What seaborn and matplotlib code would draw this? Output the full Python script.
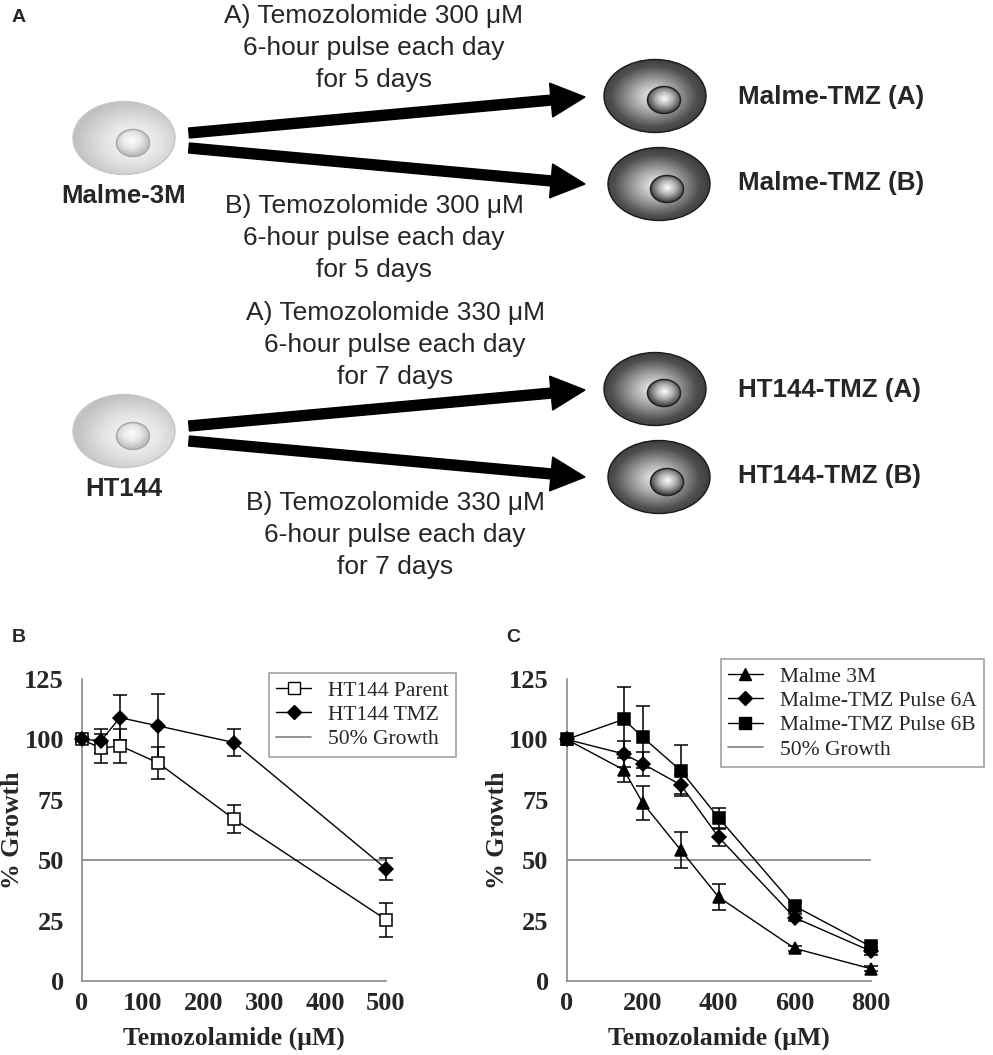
import numpy as np
import matplotlib
matplotlib.use("Agg")
import matplotlib.pyplot as plt
import seaborn as sns
from matplotlib.patches import Ellipse, FancyArrow
from matplotlib.colors import LinearSegmentedColormap
from matplotlib.lines import Line2D

# Panel B: HT144 parent vs TMZ-resistant line
b_dose = [0, 31.25, 62.5, 125, 250, 500]
b_parent = [100, 96.3, 97.4, 90.3, 67.0, 25.4]
b_parent_err = [1.0, 6.0, 7.0, 6.5, 5.7, 7.0]
b_tmz = [100, 99.5, 109.0, 105.6, 98.7, 46.5]
b_tmz_err = [1.0, 5.0, 9.4, 13.2, 5.5, 4.5]
b_labels = ["HT144 Parent", "HT144 TMZ", "50% Growth"]

# Panel C: Malme 3M and the two pulsed lines
c_dose = [0, 150, 200, 300, 400, 600, 800]
c_malme = [100, 87.4, 73.7, 54.2, 34.7, 13.5, 5.1]
c_malme_err = [0.5, 5.0, 7.0, 7.5, 5.3, 1.0, 1.0]
c_6a = [100, 94.0, 89.9, 81.2, 59.5, 26.2, 12.4]
c_6a_err = [0.5, 5.5, 5.0, 4.0, 3.5, 1.5, 1.5]
c_6b = [100, 108.3, 100.9, 87.1, 67.5, 31.0, 14.3]
c_6b_err = [0.5, 13.5, 12.8, 10.5, 4.0, 1.5, 1.5]
c_labels = ["Malme 3M", "Malme-TMZ Pulse 6A", "Malme-TMZ Pulse 6B", "50% Growth"]

growth_line = 50
y_ticks = [0, 25, 50, 75, 100, 125]
b_xticks = [0, 100, 200, 300, 400, 500]
c_xticks = [0, 200, 400, 600, 800]

# Panel A text
malme_a = ["A) Temozolomide 300 \u03bcM", "6-hour pulse each day", "for 5 days"]
malme_b = ["B) Temozolomide 300 \u03bcM", "6-hour pulse each day", "for 5 days"]
ht_a = ["A) Temozolomide 330 \u03bcM", "6-hour pulse each day", "for 7 days"]
ht_b = ["B) Temozolomide 330 \u03bcM", "6-hour pulse each day", "for 7 days"]

sns.set_theme(style="white")
plt.rcParams["font.family"] = ["Liberation Serif", "DejaVu Serif"]

fig = plt.figure(figsize=(9.93, 10.55), dpi=100)

# ---------- Panel A: schematic ----------
axA = fig.add_axes([0, 0, 1, 1])
axA.set_xlim(0, 993)
axA.set_ylim(1055, 0)
axA.axis("off")

SANS = ["Liberation Sans", "DejaVu Sans"]


def gradient_fill(ax, cx, cy, w, h, fx, fy, cmap, edge, lw, scale=1.12):
    xs = np.linspace(cx - w / 2, cx + w / 2, 220)
    ys = np.linspace(cy - h / 2, cy + h / 2, 220)
    X, Y = np.meshgrid(xs, ys)
    r = np.hypot((X - fx) / (w / 2), (Y - fy) / (h / 2))
    t = np.clip(r / scale, 0, 1)
    im = ax.imshow(t, cmap=cmap, vmin=0, vmax=1, extent=(cx - w / 2, cx + w / 2, cy + h / 2, cy - h / 2),
                   origin="upper", interpolation="bilinear", aspect="auto", zorder=1)
    e = Ellipse((cx, cy), w, h, facecolor="none", edgecolor=edge, lw=lw, zorder=2)
    ax.add_patch(e)
    im.set_clip_path(e)


def draw_cell(ax, cx, cy, nx, ny, dark):
    if dark:
        body = LinearSegmentedColormap.from_list("body", ["#f6f6f6", "#a8a8a8", "#505050", "#2a2a2a"])
        nuc = LinearSegmentedColormap.from_list("nuc", ["#ffffff", "#b0b0b0", "#444444"])
        edge, nedge = "#1a1a1a", "#222222"
        gradient_fill(ax, cx, cy, 102, 73, nx - 10, ny - 3, body, edge, 1.0, scale=1.25)
        gradient_fill(ax, nx, ny, 33, 27, nx, ny - 1, nuc, nedge, 1.1, scale=1.05)
    else:
        body = LinearSegmentedColormap.from_list("body", ["#fbfbfb", "#e4e4e4", "#c2c2c2"])
        nuc = LinearSegmentedColormap.from_list("nuc", ["#fdfdfd", "#e8e8e8", "#bcbcbc"])
        edge, nedge = "#c6c6c6", "#a8a8a8"
        gradient_fill(ax, cx, cy, 102, 73, nx, ny, body, edge, 1.0)
        gradient_fill(ax, nx, ny, 33, 27, nx - 2, ny - 2, nuc, nedge, 1.1)


def arrow(ax, x0, y0, x1, y1):
    ax.add_patch(FancyArrow(x0, y0, x1 - x0, y1 - y0, width=10, head_width=34, head_length=34,
                            length_includes_head=True, color="black", zorder=3))


def text_block(ax, cx, y_first, lines):
    for i, s in enumerate(lines):
        ax.text(cx, y_first + i * 32, s, ha="center", va="center", fontsize=19, family=SANS)


for dy, src, tgt_a, tgt_b, ta, tb, tx in [
        (0, "Malme-3M", "Malme-TMZ (A)", "Malme-TMZ (B)", malme_a, malme_b, 374),
        (293, "HT144", "HT144-TMZ (A)", "HT144-TMZ (B)", ht_a, ht_b, 395)]:
    draw_cell(axA, 124, 138 + dy, 133, 143 + dy, dark=False)
    draw_cell(axA, 655, 96 + dy, 664, 100 + dy, dark=True)
    draw_cell(axA, 659, 184 + dy, 667, 189 + dy, dark=True)
    arrow(axA, 189, 133 + dy, 585, 97 + dy)
    arrow(axA, 189, 148 + dy, 585, 184 + dy)
    axA.text(124, 196 + dy, src, ha="center", va="center", fontsize=18.5, fontweight="bold", family=SANS)
    axA.text(738, 97 + dy, tgt_a, ha="left", va="center", fontsize=18.7, fontweight="bold", family=SANS)
    axA.text(738, 183 + dy, tgt_b, ha="left", va="center", fontsize=18.7, fontweight="bold", family=SANS)
    text_block(axA, tx, 16 + dy * 1.013, ta)
    text_block(axA, tx, 206 + dy * 1.013, tb)

for lab, x in [("A", 12), ("B", 12), ("C", 506)]:
    axA.text(x, 17 if lab == "A" else 637, lab, ha="left", va="center", fontsize=14,
             fontweight="bold", family=SANS)

# ---------- Panels B and C ----------
W, H = 993, 1055
axB = fig.add_axes([82 / W, 74 / H, 304 / W, 302 / H])
axC = fig.add_axes([566.7 / W, 74 / H, 304 / W, 302 / H])

GRAY = "#8a8a8a"


def series(ax, x, y, err, marker, face, ms):
    ax.errorbar(x, y, yerr=err, fmt="none", ecolor="black", elinewidth=1.1, capsize=5,
                capthick=1.1, clip_on=False, zorder=2)
    sns.lineplot(x=x, y=y, ax=ax, color="black", linewidth=1.0, marker=marker, markersize=ms,
                 markerfacecolor=face, markeredgecolor="black", markeredgewidth=1.1,
                 clip_on=False, zorder=3, legend=False, sort=False)


def style_axes(ax, xmax, xticks):
    ax.set_xlim(0, xmax)
    ax.set_ylim(0, 125)
    ax.set_xticks(xticks)
    ax.set_yticks(y_ticks)
    sns.despine(ax=ax)
    for s in ["left", "bottom"]:
        ax.spines[s].set_color(GRAY)
        ax.spines[s].set_linewidth(1.2)
    ax.tick_params(length=0, labelsize=19)
    ax.tick_params(axis="y", pad=13)
    ax.tick_params(axis="x", pad=8)
    for t in ax.get_xticklabels() + ax.get_yticklabels():
        t.set_fontweight("bold")
    ax.set_xlabel("Temozolamide (\u03bcM)", fontsize=18.5, fontweight="bold")
    ax.set_ylabel("% Growth", fontsize=18.5, fontweight="bold")
    ax.xaxis.set_label_coords(0.5, -0.15)
    ax.patch.set_alpha(0)


# B
axB.plot([0, b_dose[-1]], [growth_line, growth_line], color=GRAY, lw=1.3, zorder=1)
series(axB, b_dose, b_parent, b_parent_err, "s", "white", 8.5)
series(axB, b_dose, b_tmz, b_tmz_err, "D", "black", 7.5)
style_axes(axB, 500, b_xticks)
axB.yaxis.set_label_coords(-0.19, 0.5)

hB = [Line2D([], [], color="black", lw=1.0, marker="s", ms=8.5, mfc="white", mec="black"),
      Line2D([], [], color="black", lw=1.0, marker="D", ms=7.5, mfc="black", mec="black"),
      Line2D([], [], color=GRAY, lw=1.3)]
legB = axB.legend(hB, b_labels, loc="upper left", bbox_to_anchor=(0.615, 1.02), borderaxespad=0,
                  fontsize=15.5, frameon=True, fancybox=False, edgecolor=GRAY, handlelength=1.6,
                  handletextpad=0.8, labelspacing=0.2, borderpad=0.35)
legB.get_frame().set_linewidth(1.2)

# C
axC.plot([0, c_dose[-1]], [growth_line, growth_line], color=GRAY, lw=1.3, zorder=1)
series(axC, c_dose, c_malme, c_malme_err, "^", "black", 8.5)
series(axC, c_dose, c_6a, c_6a_err, "D", "black", 7.5)
series(axC, c_dose, c_6b, c_6b_err, "s", "black", 8.5)
style_axes(axC, 800, c_xticks)
axC.yaxis.set_label_coords(-0.19, 0.5)

hC = [Line2D([], [], color="black", lw=1.0, marker="^", ms=8.5, mfc="black", mec="black"),
      Line2D([], [], color="black", lw=1.0, marker="D", ms=7.5, mfc="black", mec="black"),
      Line2D([], [], color="black", lw=1.0, marker="s", ms=8.5, mfc="black", mec="black"),
      Line2D([], [], color=GRAY, lw=1.3)]
legC = axC.legend(hC, c_labels, loc="upper left", bbox_to_anchor=((720.7 - 566.7) / 304, (981 - 659) / 302),
                  borderaxespad=0, fontsize=15.5, frameon=True, fancybox=False, edgecolor=GRAY,
                  handlelength=1.6, handletextpad=0.8, labelspacing=0.2, borderpad=0.35)
legC.get_frame().set_linewidth(1.2)

fig.savefig("out.png", dpi=100)
